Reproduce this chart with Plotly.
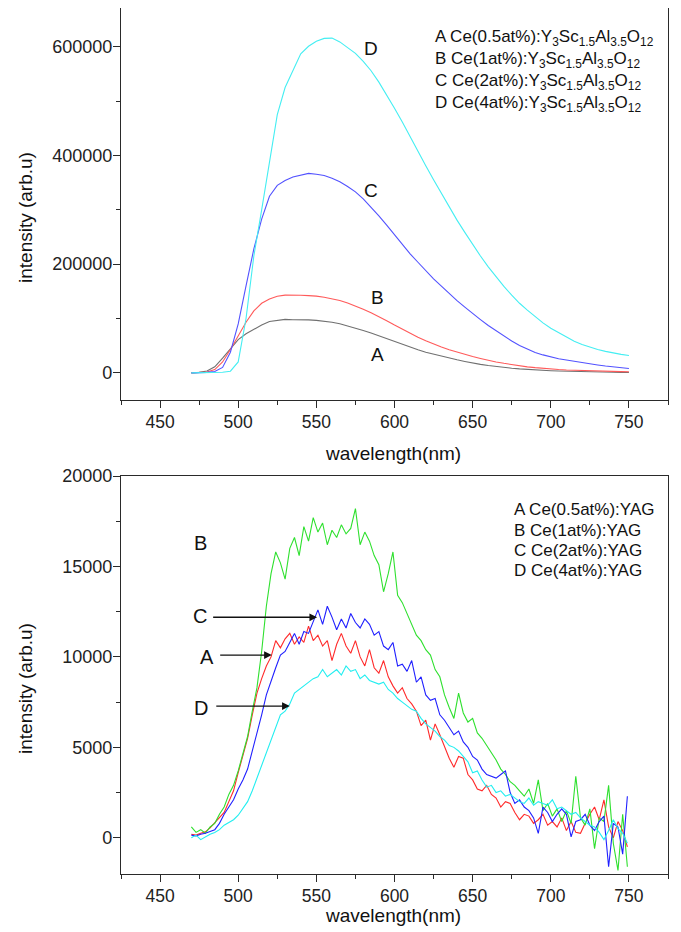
import plotly.graph_objects as go

# ---------------- data: top panel (Y3Sc1.5Al3.5O12) ----------------
wl_top = list(range(470, 751, 5))
top_A = [0, 800, 3500, 11000, 27000, 45000, 61000, 72000, 80500, 88000,
         94500, 97000, 98300, 97800, 98200, 97400, 96500, 95200, 93000, 90200,
         86500, 82300, 78000, 73200, 68000, 62500, 57000, 52200, 47000, 42600,
         38000, 34200, 30500, 27000, 24000, 21000, 18000, 15600, 13500, 11500,
         10000, 8500, 7300, 6200, 5300, 4500, 3900, 3300, 2800, 2400,
         2000, 1700, 1400, 1200, 1000, 800, 700]
top_B = [0, 300, 1500, 6000, 20000, 43000, 68000, 93000, 114000, 128000,
         136000, 141000, 143000, 143600, 142900, 142000, 141200, 139000, 136500, 133200,
         128500, 123000, 117000, 110400, 103500, 96000, 88000, 80100, 72500, 65400,
         59000, 53000, 47500, 42500, 38000, 34000, 30000, 26500, 23000, 20000,
         17500, 15000, 13000, 11000, 9500, 8000, 7000, 6000, 5200, 4600,
         4000, 3600, 3200, 2800, 2500, 2200, 2000]
top_C = [0, 200, 800, 2500, 10000, 38000, 90000, 160000, 228000, 283000,
         325000, 345000, 354000, 360500, 364000, 367000, 365500, 363000, 358000, 351500,
         343000, 333000, 320000, 305000, 289000, 272000, 254000, 236500, 219000, 203500,
         188000, 173000, 159500, 146000, 133000, 121000, 109000, 98000, 87000, 77000,
         67000, 58500, 50500, 43500, 37500, 33000, 29000, 26000, 23500, 21000,
         18500, 16500, 14500, 12500, 11000, 9500, 8000]
top_D = [0, 0, 200, 500, 1200, 3000, 20000, 100000, 215000, 300000,
         385000, 475000, 525000, 556000, 587000, 601000, 610000, 615500, 616000, 609000,
         599000, 588000, 573000, 556000, 535000, 512000, 487000, 461500, 434000, 407000,
         381000, 355500, 330000, 305000, 281000, 258500, 236000, 215000, 195000, 176500,
         159000, 143000, 128000, 115500, 103000, 92000, 82000, 73500, 65000, 58000,
         52000, 47000, 43000, 39500, 36500, 34000, 32000]

# ---------------- data: bottom panel (YAG) ----------------
wl_bot = list(range(470, 750, 3))
bot_A = [200, 150, 250, 330, 550, 850, 1100, 1400, 2000, 2600,
         3600, 4600, 5500, 6800, 8000, 8800, 9500, 10000, 10900, 10500,
         11000, 11300, 10700, 11100, 10800, 11700, 10900, 11200, 10600, 10900,
         9800, 10700, 11300, 10600, 10200, 10900, 10000, 9500, 10400, 9400,
         9100, 9800, 8900, 8400, 8000, 8300, 7700, 7400, 7000, 6200,
         6500, 5400, 6300, 5700, 5000, 4400, 3900, 4500, 4400, 3500,
         3200, 2700, 2600, 2900, 2400, 2200, 1700, 2000, 1900, 1400,
         1000, 1300, 1200, 800, 1000, 1300, 700, 900, 600, 1100,
         400, 900, 300, 250, 800, 1300, 1700, 1000, 2100, 600,
         0, 900, 400, -500]
bot_B = [600, 300, 450, 250, 600, 800, 1300, 1700, 2400, 2900,
         3700, 4600, 5600, 7000, 8300, 10300, 12800, 14600, 15800, 15200,
         14300, 16000, 16600, 15600, 17200, 16400, 17700, 16900, 17400, 16200,
         17000, 16600, 17300, 16800, 17100, 18200, 16200, 16900, 16400, 15600,
         15100, 13600, 14600, 15800, 13400, 13000, 12400, 11900, 11200, 10900,
         10400, 10100, 9300, 8900, 7900, 7200, 6600, 8000, 6900, 6400,
         6600, 5800, 5500, 5100, 4700, 4300, 3800, 3500, 3100, 2900,
         2600, 2300, 2700, 1900, 3200, 1500, 1900, 1200, 1600, 900,
         1500, 800, 3400, 1100, 700, 1600, -600, 1100, 900, 2900,
         -300, -1800, 1300, -1600]
bot_C = [150, 100, 200, 250, 350, 450, 800, 1300, 1700, 2100,
         2700, 3200, 3800, 4800, 5700, 6800, 7900, 8700, 9400, 10100,
         10300, 10800, 11300, 10700, 11400, 11300, 12000, 12600, 11800, 12800,
         12200, 11500, 12100, 11600, 12400, 11900, 11600, 12100, 11800, 11200,
         11400, 10600, 10400, 10800, 9500, 9600, 9200, 9800, 8600, 8900,
         7900, 7600, 7700, 6800, 6500, 6100, 5700, 5900, 5300, 5000,
         4500, 4300, 3800, 3500, 3400, 3300, 3500, 3700, 2500, 1900,
         2100, 1700, 1500, 1100, 250, 1700, 1400, 900, 1300, 1600,
         1300, 50, 900, 1000, 1300, 700, 400, 900, 1200, -1600,
         800, 600, -900, 2300]
bot_D = [0, 150, -100, 50, 200, 300, 450, 700, 850, 1000,
         1250, 1600, 2000, 2600, 3300, 4000, 4700, 5500, 6200, 6800,
         7000, 7400, 8000, 8200, 8400, 8600, 8800, 8900, 9300, 8900,
         9100, 9300, 9000, 9500, 9200, 9300, 8800, 9000, 8700, 8600,
         8500, 8600, 8200, 8000, 7700, 7500, 7300, 7100, 7000, 6600,
         6300, 6100, 5900, 5600, 5400, 5100, 5000, 4800, 4500, 4200,
         3600, 3700, 3200, 2800, 2900, 2500, 2600, 2300, 2400, 2200,
         2000, 1900, 2200, 1800, 2000, 1900, 1800, 2100, 1600, 1700,
         1500, 1300, 1400, 1100, 900, 700, 600, 300, -100, 400,
         1000, 500, 250, -300]

top_legend = [
    "A Ce(0.5at%):Y<sub>3</sub>Sc<sub>1.5</sub>Al<sub>3.5</sub>O<sub>12</sub>",
    "B Ce(1at%):Y<sub>3</sub>Sc<sub>1.5</sub>Al<sub>3.5</sub>O<sub>12</sub>",
    "C Ce(2at%):Y<sub>3</sub>Sc<sub>1.5</sub>Al<sub>3.5</sub>O<sub>12</sub>",
    "D Ce(4at%):Y<sub>3</sub>Sc<sub>1.5</sub>Al<sub>3.5</sub>O<sub>12</sub>",
]
bot_legend = ["A Ce(0.5at%):YAG", "B Ce(1at%):YAG", "C Ce(2at%):YAG", "D Ce(4at%):YAG"]

FONT = "Liberation Sans, Arial, sans-serif"
# the page body adds an 8px offset; the figure is sized to fit the window
OFF = 8
W, H = 681 - OFF, 932 - OFF
L, R, T, B = 121 - OFF, 13, 0, 58
PLOT_TOP, PLOT_BOT = OFF + T, 932 - B        # absolute window pixels of plot area
PLOT_H = PLOT_BOT - PLOT_TOP
PLOT_W = 681 - R - 121


def px(xp, yp):
    """absolute window pixel position -> paper coordinates"""
    return (xp - 121) / PLOT_W, (PLOT_BOT - yp) / PLOT_H


def dom(top_px, bot_px):
    return [(PLOT_BOT - bot_px) / PLOT_H, (PLOT_BOT - top_px) / PLOT_H]


def label(text, xc, yc, size, xanchor="center", angle=0):
    xp, yp = px(xc, yc)
    return dict(x=xp, y=yp, xref="paper", yref="paper", text=text, textangle=angle,
                xanchor=xanchor, yanchor="middle", showarrow=False,
                font=dict(family=FONT, size=size, color="#111"))


fig = go.Figure()

top_colors = ["#707070", "#ff5a5a", "#5252ff", "#44eef2"]
for ys, c in zip([top_A, top_B, top_C, top_D], top_colors):
    fig.add_trace(go.Scatter(x=wl_top, y=ys, mode="lines", line=dict(color=c, width=1.1),
                             xaxis="x", yaxis="y", showlegend=False))

bot_colors = ["#ff2a2a", "#2ee02e", "#2020ff", "#22eef0"]
for ys, c in zip([bot_A, bot_B, bot_C, bot_D], bot_colors):
    fig.add_trace(go.Scatter(x=wl_bot, y=ys, mode="lines", line=dict(color=c, width=1.1),
                             xaxis="x2", yaxis="y2", showlegend=False))

axcol = "#2a2a2a"
common_x = dict(range=[425, 775], tick0=450, dtick=50, ticks="outside", ticklen=7,
                tickwidth=1.2, tickcolor=axcol, showline=True, linecolor=axcol, linewidth=1.3,
                mirror=True, showgrid=False, zeroline=False, automargin=False,
                ticklabelstandoff=-1,
                tickfont=dict(family=FONT, size=17.5, color="#222"),
                minor=dict(ticks="outside", ticklen=4, tickwidth=1.2, tickcolor=axcol, dtick=25, tick0=425))
common_y = dict(ticks="outside", ticklen=7, tickwidth=1.2, tickcolor=axcol, showline=True,
                linecolor=axcol, linewidth=1.3, mirror=True, showgrid=False, zeroline=False,
                automargin=False, tickformat="d", ticklabelstandoff=-3,
                tickfont=dict(family=FONT, size=18, color="#222"))

ann = []
# axis titles
for yc in [218, 689]:
    ann.append(label("intensity (arb.u)", 25, yc, 19, angle=-90))
for yc in [453, 915]:
    ann.append(label("wavelength(nm)", 393, yc, 19))

# top legend
for t, yc in zip(top_legend, [38, 60, 82, 104]):
    ann.append(label(t, 433, yc, 17, xanchor="left"))
# bottom legend
for t, yc in zip(bot_legend, [510, 530, 550, 570]):
    ann.append(label(t, 512, yc, 17, xanchor="left"))

# top curve labels
for t, (xc, yc) in zip(["D", "C", "B", "A"], [(371, 48), (371, 190), (377, 297), (377, 354)]):
    ann.append(label(t, xc, yc, 19))
# bottom curve labels
for t, (xc, yc) in zip(["B", "C", "A", "D"], [(200, 543), (200, 616), (207, 657), (201, 708)]):
    ann.append(label(t, xc, yc, 20))
# arrows (data coords of bottom panel)
for (tail, head, yv) in [(483, 550.5, 12190), (487.5, 521.5, 10100), (485, 533, 7280)]:
    ann.append(dict(x=head, y=yv, ax=tail, ay=yv, xref="x2", yref="y2", axref="x2", ayref="y2",
                    text="", showarrow=True, arrowhead=2, arrowsize=1.1, arrowwidth=1.4,
                    arrowcolor="#111", standoff=0))

fig.update_layout(
    width=W, height=H, margin=dict(l=L, r=R, t=T, b=B, autoexpand=False),
    paper_bgcolor="white", plot_bgcolor="white",
    xaxis=dict(domain=[0, 1], anchor="y", **common_x),
    yaxis=dict(domain=dom(8, 400), anchor="x", range=[-50000, 671400], tick0=0, dtick=200000,
               minor=dict(ticks="outside", ticklen=4, tickwidth=1.2, tickcolor=axcol, dtick=100000, tick0=0),
               **common_y),
    xaxis2=dict(domain=[0, 1], anchor="y2", **common_x),
    yaxis2=dict(domain=dom(476, 874), anchor="x2", range=[-2000, 20000], tick0=0, dtick=5000,
                minor=dict(ticks="outside", ticklen=4, tickwidth=1.2, tickcolor=axcol, dtick=2500, tick0=0),
                **common_y),
    annotations=ann,
    font=dict(family=FONT),
)

fig.write_html("out.html")
